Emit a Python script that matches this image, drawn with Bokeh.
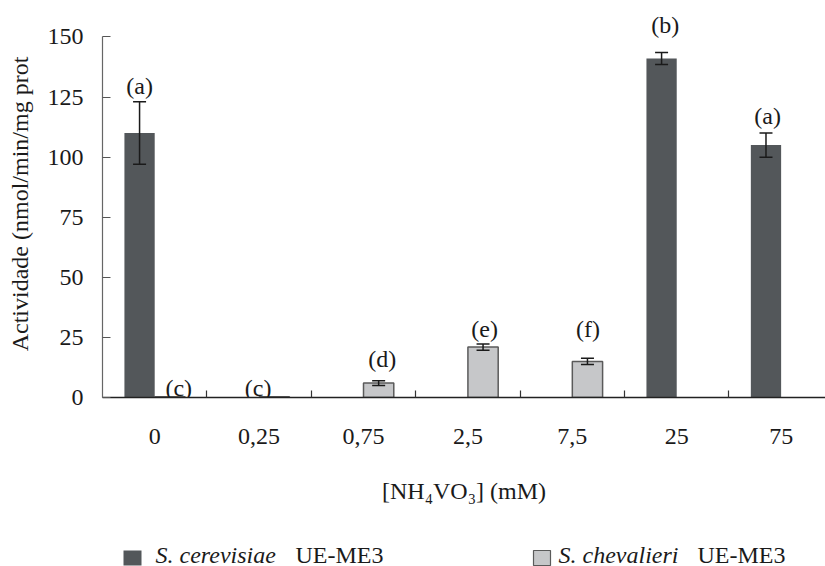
from bokeh.plotting import figure
from bokeh.models import FixedTicker, Range1d, ColumnDataSource, Whisker, TeeHead
from bokeh.layouts import column
from bokeh.core.properties import value
from bokeh.embed import file_html
from bokeh.resources import INLINE

# ---------------- data ----------------
categories = ["0", "0,25", "0,75", "2,5", "7,5", "25", "75"]
cerevisiae = [110, 0, 0, 0, 0, 141, 105]
cerevisiae_err = [13, 0, 0, 0, 0, 2.5, 5]
chevalieri = [0.3, 0.3, 6, 21, 15, 0, 0]
chevalieri_err = [0, 0, 1, 1.3, 1.3, 0, 0]
y_ticks = [0, 25, 50, 75, 100, 125, 150]

letters = ["(a)", "(c)", "(c)", "(d)", "(e)", "(f)", "(b)", "(a)"]
letter_x = [0.355, 0.73, 1.49, 2.68, 3.66, 4.65, 5.39, 6.37]
letter_y = [129.6, 4, 4, 16.2, 28.3, 28.3, 155, 117]

series_names = ["S. cerevisiae", "S. chevalieri"]
strain = "UE-ME3"

# ---------------- style ----------------
FONT = "Liberation Serif"
DARK = "#53575a"
LIGHT = "#c6c7c9"
EDGE = "#5a5a5a"
INK = "#1a1a1a"
BW = 0.29
OFF = 0.145

centers = [i + 0.5 for i in range(len(categories))]

p = figure(frame_width=723, frame_height=387,
           x_range=Range1d(0, 6.925), y_range=Range1d(0, 161),
           output_backend="svg", toolbar_location=None,
           min_border_left=102, min_border_right=0,
           min_border_top=10, min_border_bottom=118)
p.grid.visible = False
p.outline_line_color = None
p.background_fill_color = "white"
p.border_fill_color = "white"

dark_src = ColumnDataSource(dict(
    x=[c - OFF for c, v in zip(centers, cerevisiae) if v > 0],
    top=[v for v in cerevisiae if v > 0],
))
light_src = ColumnDataSource(dict(
    x=[c + OFF for c, v in zip(centers, chevalieri) if v > 0],
    top=[v for v in chevalieri if v > 0],
))
p.vbar(x="x", top="top", bottom=0, width=BW, source=dark_src,
       fill_color=DARK, line_color=None)
p.vbar(x="x", top="top", bottom=0, width=BW, source=light_src,
       fill_color=LIGHT, line_color=EDGE, line_width=1.5)

err_x, err_lo, err_hi = [], [], []
for c, v, e in zip(centers, cerevisiae, cerevisiae_err):
    if e > 0:
        err_x.append(c - OFF); err_lo.append(v - e); err_hi.append(v + e)
for c, v, e in zip(centers, chevalieri, chevalieri_err):
    if e > 0:
        err_x.append(c + OFF); err_lo.append(v - e); err_hi.append(v + e)
err_src = ColumnDataSource(dict(x=err_x, lower=err_lo, upper=err_hi))
w = Whisker(base="x", lower="lower", upper="upper", source=err_src,
            line_color=INK, line_width=1.5, level="annotation",
            upper_head=TeeHead(size=13, line_color=INK, line_width=1.5),
            lower_head=TeeHead(size=13, line_color=INK, line_width=1.5))
p.add_layout(w)

lab_src = ColumnDataSource(dict(x=letter_x, y=letter_y, t=letters))
p.text(x="x", y="y", text="t", source=lab_src, text_font=value(FONT),
       text_font_size="24px", text_align="center", text_baseline="middle",
       text_color=INK)

# x axis
xa = p.xaxis[0]
xa.ticker = FixedTicker(ticks=centers, minor_ticks=[1, 2, 3, 4, 5, 6, 7])
xa.major_label_overrides = {c: lab for c, lab in zip(centers, categories)}
xa.major_tick_in = 0
xa.major_tick_out = 0
xa.minor_tick_in = 7
xa.minor_tick_out = 0
xa.minor_tick_line_color = "#333333"
xa.minor_tick_line_width = 1.2
xa.axis_line_color = "#222222"
xa.axis_line_width = 1.5
xa.major_label_text_font = FONT
xa.major_label_text_font_size = "24px"
xa.major_label_text_color = INK
xa.major_label_standoff = 31
xa.axis_label = "[NH\u2084VO\u2083] (mM)"
xa.axis_label_text_font = FONT
xa.axis_label_text_font_size = "24px"
xa.axis_label_text_font_style = "normal"
xa.axis_label_text_color = INK
xa.axis_label_standoff = 31

# y axis
ya = p.yaxis[0]
ya.ticker = FixedTicker(ticks=y_ticks)
ya.bounds = (0, 150)
ya.major_tick_in = 8
ya.major_tick_out = 0
ya.minor_tick_line_color = None
ya.major_tick_line_color = "#555555"
ya.axis_line_color = "#666666"
ya.axis_line_width = 1.2
ya.major_label_text_font = FONT
ya.major_label_text_font_size = "24px"
ya.major_label_text_color = INK
ya.major_label_standoff = 19
ya.axis_label = "Actividade (nmol/min/mg prot"
ya.axis_label_text_font = FONT
ya.axis_label_text_font_size = "24px"
ya.axis_label_text_font_style = "normal"
ya.axis_label_text_color = INK
ya.axis_label_standoff = 12

# legend strip: its frame is aligned with the main frame (x = page pixels from 102),
# y in pixels above the page bottom
lf = figure(frame_width=723, frame_height=51,
            x_range=Range1d(102, 825), y_range=Range1d(0, 51),
            output_backend="svg", toolbar_location=None,
            x_axis_location=None, y_axis_location=None,
            min_border_left=102, min_border_right=0,
            min_border_top=0, min_border_bottom=0)
lf.grid.visible = False
lf.outline_line_color = None
lf.quad(left=[123], right=[141], top=[16], bottom=[1], fill_color=DARK, line_color=None)
lf.quad(left=[533], right=[550], top=[16], bottom=[1], fill_color=LIGHT,
        line_color=EDGE, line_width=1.2)
lf.text(x=[155, 558], y=[12, 12], text=series_names, text_font=value(FONT),
        text_font_size="24px", text_font_style="italic", text_baseline="middle",
        text_align="left", text_color=INK)
lf.text(x=[295, 697], y=[12, 12], text=[strain, strain], text_font=value(FONT),
        text_font_size="24px", text_baseline="middle",
        text_align="left", text_color=INK)

layout = column(p, lf, spacing=0)
open("out.html", "w").write(file_html(layout, INLINE))
